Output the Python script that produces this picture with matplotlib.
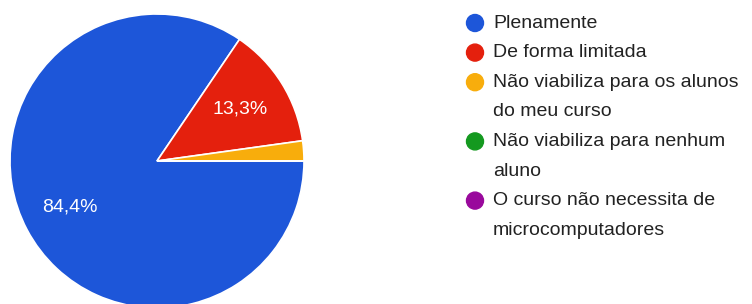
import matplotlib
matplotlib.use("Agg")
import matplotlib.pyplot as plt
from matplotlib.patches import Circle

categories = [
    "Plenamente",
    "De forma limitada",
    "Não viabiliza para os alunos\ndo meu curso",
    "Não viabiliza para nenhum\naluno",
    "O curso não necessita de\nmicrocomputadores",
]
values = [84.4, 13.3, 2.2, 0.0, 0.0]
colors = ["#1d56d9", "#e4200d", "#f8ad0c", "#14991f", "#99099c"]

plt.rcParams['font.family'] = ['Liberation Sans', 'DejaVu Sans']

W, H = 752, 304
fig = plt.figure(figsize=(W / 100, H / 100), dpi=100)

cx, cy, R = 157, 161, 147
ax = fig.add_axes([(cx - R) / W, (H - cy - R) / H, 2 * R / W, 2 * R / H])
ax.axis('off')

total = sum(values)

def fmt(p):
    v = p * total / 100
    return (f"{v:.1f}%".replace('.', ',')) if v > 5 else ""

wedges, texts, autotexts = ax.pie(
    values, colors=colors, startangle=0, counterclock=False, radius=1,
    autopct=fmt, pctdistance=0.67,
    wedgeprops=dict(edgecolor='white', linewidth=1.2),
    textprops=dict(color='white', fontsize=14),
    frame=False,
)
for w in wedges:
    w.set_clip_on(False)
ax.set_xlim(-1, 1)
ax.set_ylim(-1, 1)
ax.set_aspect('equal')

# legend overlay in pixel coords
lax = fig.add_axes([0, 0, 1, 1])
lax.set_xlim(0, W)
lax.set_ylim(H, 0)
lax.axis('off')

y0, dy = 23, 29.6
k = 0
for cat, col in zip(categories, colors):
    lines = cat.split("\n")
    lax.add_patch(Circle((475, y0 + dy * k), 8.5, color=col))
    for ln in lines:
        lax.text(493, y0 + dy * k, ln, fontsize=14, color='#222222',
                 va='center', ha='left')
        k += 1

fig.savefig("out.png", dpi=100)
